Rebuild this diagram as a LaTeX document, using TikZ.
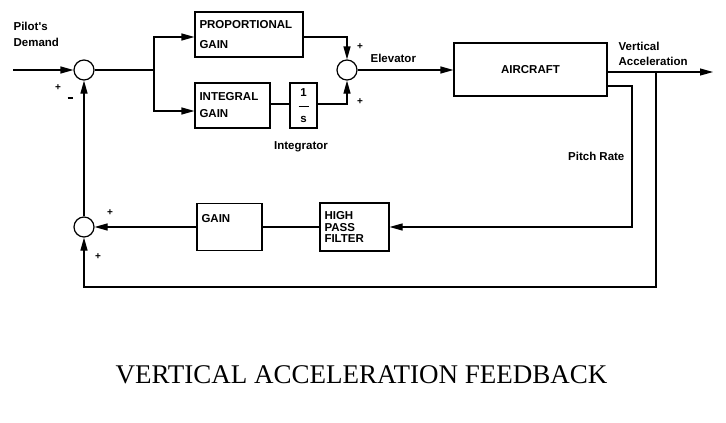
\documentclass[tikz,border=0pt]{standalone}
\usepackage{fontspec}
\usetikzlibrary{arrows.meta,calc}
\newfontfamily\labfont{Liberation Sans}
\newfontfamily\titlefont{Liberation Serif}
\begin{document}
\begin{tikzpicture}[x=1pt,y=-1pt,
  line width=1.2pt,
  lab/.style={font=\labfont\fontsize{11.5}{13}\selectfont\bfseries, inner sep=0pt},
  blk/.style={draw, rectangle, lab, align=left, inner xsep=4.5pt, anchor=center},
  sumc/.style={draw, circle, minimum size=20pt, inner sep=0pt},
  sgn/.style={font=\labfont\fontsize{10}{11}\selectfont\bfseries, inner sep=0pt},
  arr/.style={-{Triangle[length=13pt,width=7pt]}},
]
\useasboundingbox (0,0) rectangle (726,423);

% summing junctions
\node[sumc] (s1) at (84,70) {};
\node[sumc] (s2) at (347,70) {};
\node[sumc] (s3) at (84,227) {};

% blocks
\node[blk, minimum width=108pt, minimum height=45pt, text width=99pt] (pg) at (249,34.5)
  {PROPORTIONAL\\[7pt]GAIN};
\node[blk, minimum width=75pt, minimum height=45pt, text width=66pt] (ig) at (232.5,105.5)
  {INTEGRAL\\[4pt]GAIN};
\node[draw, rectangle, lab, minimum width=27pt, minimum height=45pt, align=center] (is) at (303.5,105.5)
  {1\\[-2pt]\rule{10pt}{1pt}\\[2pt]s};
\node[draw, rectangle, lab, minimum width=153pt, minimum height=53pt] (ac) at (530.5,69.5)
  {AIRCRAFT};
\node[blk, minimum width=69pt, minimum height=48pt, text width=60pt] (hp) at (354.5,227)
  {HIGH\\[-1.5pt]PASS\\[-1.5pt]FILTER};
\node[blk, minimum width=65pt, minimum height=47pt, text width=56pt, inner xsep=4.5pt] (gb) at (229.5,227)
  {GAIN\\[4pt]\phantom{G}};

% labels
\node[lab, anchor=west, align=left] (pd) at (13,34) {Pilot's\\[3pt]Demand};
\node[lab, anchor=west] (el) at (370,58) {Elevator};
\node[lab, anchor=west, align=left] (va) at (618,53.5) {Vertical\\[2pt]Acceleration};
\node[lab, anchor=east] (pr) at (625,156) {Pitch Rate};
\node[lab] (itg) at (301,147) {Integrator};

% signs
\node[sgn] (p1) at (58,88) {+};
\node[sgn] (m1) at (70,98) {\rule{5pt}{1.6pt}};
\node[sgn] (p2) at (360,47) {+};
\node[sgn] (p3) at (360,102) {+};
\node[sgn] (p4) at (110,213) {+};
\node[sgn] (p5) at (98,257) {+};

% coordinates
\coordinate (in) at (13,70);
\coordinate (br) at (154,70);
\coordinate (out) at (713,72);
\coordinate (vb) at (656,72);
\coordinate (vbb) at (656,287);
\coordinate (lb) at (84,287);
\coordinate (pb) at (632,86);
\coordinate (pbb) at (632,227);

% connectors
\draw[arr] (in) -- (s1.west);
\draw (s1.east) -- (br);
\draw[arr] (br) |- ([yshift=-2.5pt]pg.west);
\draw[arr] (br) |- ([yshift=-5.5pt]ig.west);
\draw[arr] ([yshift=-2.5pt]pg.east) -| (s2.north);
\draw ([yshift=1.5pt]ig.east) -- ([yshift=1.5pt]is.west);
\draw[arr] ([yshift=1.5pt]is.east) -| (s2.south);
\draw[arr] (s2.east) -- (ac.west |- s2.east);
\draw[arr] (ac.east |- out) -- (out);
\draw[arr] (vb) -- (vbb) -- (lb) -- (s3.south);
\draw[arr] (ac.east |- pb) -- (pb) -- (pbb) -- (hp.east);
\draw (hp.west) -- (gb.east);
\draw[arr] (gb.west) -- (s3.east);
\draw[arr] (s3.north) -- (s1.south);

% title
\node[font=\titlefont\fontsize{27}{30}\selectfont, inner sep=0pt] (title) at (361.5,374.5)
  {VERTICAL ACCELERATION FEEDBACK};
\end{tikzpicture}
\end{document}
